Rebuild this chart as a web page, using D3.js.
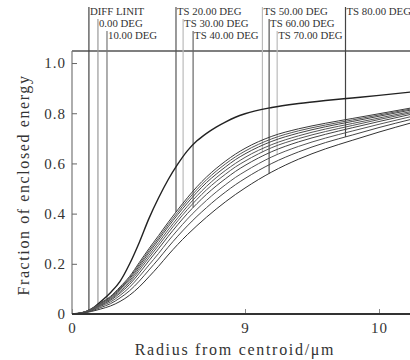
<!DOCTYPE html>
<html>
<head>
<meta charset="utf-8">
<script src="https://cdn.jsdelivr.net/npm/d3@7"></script>
<style>
  body { margin: 0; background: #fff; }
  svg { display: block; font-family: "Liberation Serif", "Times New Roman", serif; }
</style>
</head>
<body>
<svg id="chart" width="410" height="360"></svg>
<script>
// radius samples (axis is labelled 0, 9, 10 and is not uniform)
const radius = [0, 0.5, 1, 1.5, 2, 2.5, 3, 3.5, 4, 4.5, 5, 5.5, 6, 6.5, 7, 7.5, 8, 8.5, 9, 9.2, 9.4, 9.6, 9.8, 10, 10.25];

const diffLimit = [0, .004, .02, .05, .085, .13, .2, .285, .38, .462, .535, .597, .65, .69, .72, .745, .766, .784, .798, .823, .839, .851, .861, .871, .885];
const field20 = [0, .005, .02, .045, .07, .108, .15, .205, .26, .312, .365, .415, .463, .507, .546, .58, .61, .637, .66, .708, .738, .76, .779, .798, .822];
const field30 = [0, .005, .019, .043, .067, .104, .145, .198, .252, .303, .356, .405, .453, .496, .535, .569, .599, .626, .649, .698, .73, .753, .773, .793, .818];
const field0  = [0, .005, .019, .042, .065, .1, .14, .191, .244, .295, .347, .396, .442, .485, .524, .557, .587, .615, .638, .688, .721, .746, .767, .788, .814];
const field10 = [0, .004, .018, .039, .061, .095, .133, .183, .234, .284, .335, .383, .429, .471, .509, .543, .573, .6, .624, .675, .71, .737, .759, .781, .808];
const field50 = [0, .004, .017, .037, .058, .089, .126, .174, .224, .273, .323, .371, .416, .457, .495, .528, .558, .586, .609, .663, .699, .727, .751, .775, .803];
const field40 = [0, .004, .016, .034, .054, .083, .118, .163, .212, .26, .309, .356, .4, .44, .477, .51, .54, .568, .592, .647, .686, .716, .742, .767, .797];
const field70 = [0, .004, .014, .031, .048, .074, .107, .149, .195, .241, .29, .335, .378, .417, .453, .486, .516, .544, .568, .626, .668, .701, .729, .756, .788];
const field80 = [0, .003, .012, .026, .041, .064, .093, .131, .175, .219, .266, .31, .351, .389, .424, .457, .487, .515, .54, .6, .646, .683, .713, .743, .777];
const field60 = [0, .003, .01, .02, .032, .05, .075, .108, .148, .19, .235, .277, .316, .352, .386, .418, .448, .476, .502, .566, .617, .658, .692, .725, .763];

const seriesNames = ["DIFF LINIT", "0.00 DEG", "10.00 DEG", "TS 20.00 DEG", "TS 30.00 DEG", "TS 40.00 DEG", "TS 50.00 DEG", "TS 60.00 DEG", "TS 70.00 DEG", "TS 80.00 DEG"];
const seriesValues = [diffLimit, field0, field10, field20, field30, field40, field50, field60, field70, field80];
// radius where each label's leader meets its curve
const markRadius = [0.88, 1.35, 1.82, 5.41, 5.78, 6.30, 9.13, 9.18, 9.24, 9.75];

const yTicks = [0, 0.2, 0.4, 0.6, 0.8, 1.0];
const xTicks = [0, 9, 10];

// styles
const leaderShade = ["#444", "#999", "#777", "#555", "#bbb", "#666", "#bbb", "#555", "#bbb", "#444"];
const curveShade = ["#222", "#444", "#555", "#3a3a3a", "#555", "#444", "#555", "#333", "#555", "#444"];

const svg = d3.select("#chart");

const x = d3.scaleLinear().domain([0, 9, 10]).range([72, 245, 379]);
const y = d3.scaleLinear().domain([0, 1.048]).range([314, 51]);
const xMax = 10.3;

// frame
svg.append("line")
  .attr("x1", x(0)).attr("x2", x(xMax))
  .attr("y1", y(1.048)).attr("y2", y(1.048))
  .attr("stroke", "#555").attr("stroke-width", 1.5);
svg.append("line")
  .attr("x1", x(0)).attr("x2", x(0))
  .attr("y1", y(1.048)).attr("y2", y(0))
  .attr("stroke", "#777").attr("stroke-width", 1.2);

// leader lines + labels
function valueAt(vals, r) {
  const i = Math.max(1, d3.bisectLeft(radius, r));
  const t = (r - radius[i - 1]) / (radius[i] - radius[i - 1]);
  return vals[i - 1] + t * (vals[i] - vals[i - 1]);
}

const rowBase = [15, 27, 39];

seriesNames.forEach((name, i) => {
  const row = i % 3;
  const px = x(markRadius[i]);
  svg.append("line")
    .attr("x1", px).attr("x2", px)
    .attr("y1", rowBase[row] - 8)
    .attr("y2", y(valueAt(seriesValues[i], markRadius[i])))
    .attr("stroke", leaderShade[i])
    .attr("stroke-width", 1.2);
  svg.append("text")
    .attr("x", px + 1)
    .attr("y", rowBase[row])
    .attr("font-size", 10.8)
    .attr("fill", "#333")
    .text(name);
});

// curves
const line = d3.line()
  .x((d, i) => x(radius[i]))
  .y(d => y(d))
  .curve(d3.curveMonotoneX);

svg.append("g")
  .selectAll("path")
  .data(seriesValues)
  .join("path")
  .attr("d", line)
  .attr("fill", "none")
  .attr("stroke", (d, i) => curveShade[i])
  .attr("stroke-width", (d, i) => i === 0 ? 1.4 : 1);

// axes
const yAxis = svg.append("g")
  .attr("transform", `translate(${x(0)},0)`)
  .call(d3.axisLeft(y)
    .tickValues(yTicks)
    .tickSize(-5)
    .tickPadding(6)
    .tickFormat(d => d === 0 ? "0" : d.toFixed(1)));
yAxis.select(".domain").remove();
yAxis.selectAll("line").attr("stroke", "#666");
yAxis.selectAll("text")
  .attr("font-family", "Liberation Serif, serif")
  .attr("font-size", 15)
  .attr("letter-spacing", 1)
  .attr("fill", "#333");

const xAxis = svg.append("g")
  .attr("transform", `translate(0,${y(0)})`)
  .call(d3.axisBottom(x)
    .tickValues(xTicks)
    .tickSize(-5)
    .tickPadding(8)
    .tickFormat(d3.format("d")));
xAxis.select(".domain").remove();
xAxis.selectAll("line").attr("stroke", "#888");
xAxis.selectAll("text")
  .attr("font-family", "Liberation Serif, serif")
  .attr("font-size", 15)
  .attr("letter-spacing", 1)
  .attr("fill", "#333");

svg.append("line")
  .attr("x1", x(0)).attr("x2", x(xMax))
  .attr("y1", y(0)).attr("y2", y(0))
  .attr("stroke", "#333").attr("stroke-width", 2);

// titles
svg.append("text")
  .attr("x", 235).attr("y", 355)
  .attr("text-anchor", "middle")
  .attr("font-size", 16)
  .attr("letter-spacing", 1.7)
  .attr("fill", "#333")
  .text("Radius from centroid/μm");

svg.append("text")
  .attr("transform", "translate(29,185) rotate(-90)")
  .attr("text-anchor", "middle")
  .attr("font-size", 16)
  .attr("letter-spacing", 1.6)
  .attr("fill", "#333")
  .text("Fraction of enclosed energy");
</script>
</body>
</html>
